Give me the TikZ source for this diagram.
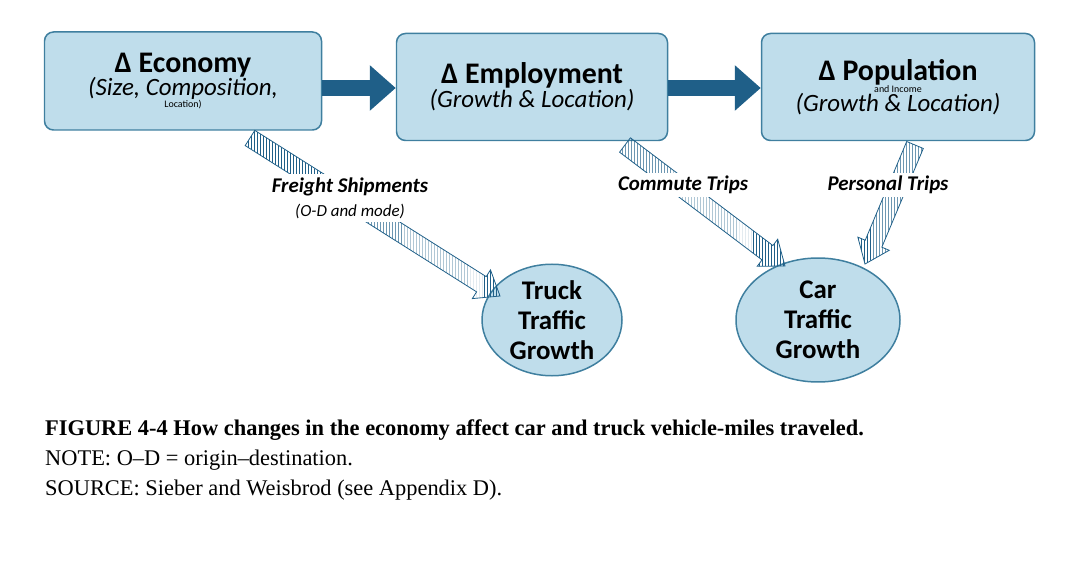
\documentclass[tikz,border=0pt]{standalone}
\usepackage{fontspec}
\setmainfont{Liberation Serif}
\newfontfamily\calfont{Carlito}
\usetikzlibrary{calc,patterns,shapes.geometric,arrows.meta}
\definecolor{boxfill}{HTML}{BFDDEB}
\definecolor{boxedge}{HTML}{3F7F9F}
\definecolor{arrowblue}{HTML}{1F5F88}
\newcommand{\ttl}{\fontsize{30}{32}\selectfont\bfseries\upshape}
\newcommand{\sub}{\fontsize{25}{29}\selectfont\mdseries\itshape}
\tikzset{
  box/.style={draw=boxedge,line width=1.5pt,rounded corners=9pt,fill=boxfill,align=center,font=\calfont,inner sep=0pt},
  ell/.style={draw=boxedge,line width=1.5pt,ellipse,fill=boxfill,align=center,font=\calfont\fontsize{27}{30}\selectfont\bfseries,inner sep=0pt},
  lab/.style={font=\calfont\fontsize{21}{24}\selectfont\bfseries\itshape,fill=white},
}
\newcommand{\hatcharrow}[2]{%
  \coordinate (hb) at ($(#2)!22bp!(#1)$);
  \filldraw[draw=arrowblue,line width=0.8pt,pattern=vertical lines,pattern color=arrowblue]
    ($(#1)!9bp!90:(hb)$) -- ($(hb)!9bp!-90:(#1)$) -- ($(hb)!17bp!-90:(#1)$) -- (#2)
    -- ($(hb)!17bp!90:(#1)$) -- ($(hb)!9bp!90:(#1)$) -- ($(#1)!9bp!-90:(hb)$) -- cycle;}
\begin{document}
\begin{tikzpicture}[x=1bp,y=-1bp]
\useasboundingbox (0,0) rectangle (1078,580);
\node[box,minimum width=277bp,minimum height=98bp] (eco) at (183,81)
 {\ttl Δ Economy\\ \sub (Size, Composition,\\ Location)};
\node[box,minimum width=271bp,minimum height=107bp] (emp) at (532,87)
 {\ttl Δ Employment\\ \sub (Growth \& Location)};
\node[box,minimum width=273bp,minimum height=107bp] (pop) at (898,87)
 {\ttl Δ Population\\ and Income\\ \sub (Growth \& Location)};
\node[ell,minimum width=140bp,minimum height=104bp] (truck) at (552,320) {Truck\\Traffic\\Growth};
\node[ell,minimum width=164bp,minimum height=124bp] (car) at (818,320) {Car\\Traffic\\Growth};
\draw[arrowblue,line width=16bp,-{Triangle[length=26bp,width=44bp]}] (eco.east|-0,88) -- (emp.west|-0,88);
\draw[arrowblue,line width=16bp,-{Triangle[length=26bp,width=44bp]}] (emp.east|-0,88) -- (pop.west|-0,88);
\coordinate (a1) at (250,138); \coordinate (b1) at (500,296);
\coordinate (a2) at (625,145); \coordinate (b2) at (785,266);
\coordinate (a3) at (915,145); \coordinate (b3) at (865,264);
\hatcharrow{a1}{b1}
\hatcharrow{a2}{b2}
\hatcharrow{a3}{b3}
\node[lab,align=center] (fs) at (350,198) {Freight Shipments\\ \fontsize{17}{20}\selectfont\mdseries\itshape (O-D and mode)};
\node[lab] (ct) at (683,185) {Commute Trips};
\node[lab] (pt) at (888,185) {Personal Trips};
\node[anchor=north west,text width=990bp,align=justify,font=\fontsize{22.5}{30}\selectfont,inner sep=0pt] (cap) at (45,420)
 {\textbf{FIGURE 4-4 How changes in the economy affect car and truck vehicle-miles traveled.}\par
 NOTE: O--D = origin--destination.\par
 SOURCE: Sieber and Weisbrod (see Appendix D).};
\end{tikzpicture}
\end{document}
